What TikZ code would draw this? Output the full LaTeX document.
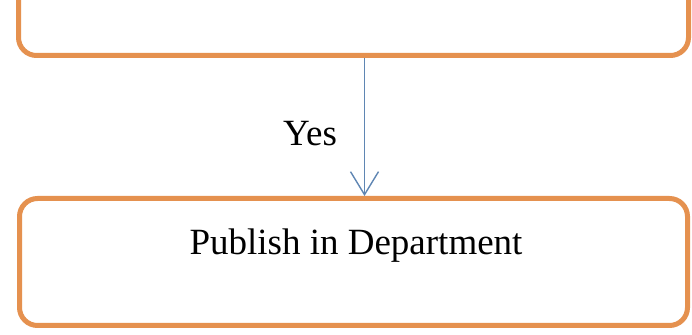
\documentclass[tikz,border=0pt]{standalone}
\usepackage{fontspec}
\setmainfont{Liberation Serif}
\usetikzlibrary{arrows.meta}
\definecolor{boxorange}{HTML}{E5914F}
\definecolor{flowblue}{HTML}{5F86B3}
\begin{document}
\begin{tikzpicture}[x=1pt,y=1pt,
  stepbox/.style={draw=boxorange, line width=5pt, rounded corners=18pt, fill=white},
  flowarrow/.style={draw=flowblue, line width=1.4pt, -{Straight Barb[length=23pt,width=28pt,line width=1.4pt]}},
  labeltext/.style={font=\fontsize{37}{44}\selectfont, inner sep=0pt, anchor=base}]
  \useasboundingbox (0,0) rectangle (692,334);
  \clip (0,0) rectangle (692,334);
  % previous step, only its lower part is in view
  \node[stepbox, minimum width=670pt, minimum height=140pt, anchor=south west] (prev) at (16,276) {};
  % publishing step
  \node[stepbox, minimum width=668pt, minimum height=127pt, anchor=south west] (publish) at (17,6) {};
  \node[labeltext] (publishtext) at (356,79) {Publish in Department};
  % connector with its label
  \draw[flowarrow] ([xshift=11pt]prev.south) -- ([xshift=11pt]publish.north);
  \node[labeltext] (yes) at (310,188) {Yes};
\end{tikzpicture}
\end{document}
